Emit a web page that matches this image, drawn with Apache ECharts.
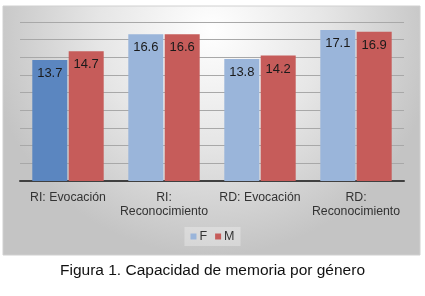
<!DOCTYPE html>
<html><head><meta charset="utf-8">
<script src="https://cdn.jsdelivr.net/npm/echarts@6/dist/echarts.min.js"></script>
<style>html,body{margin:0;padding:0;background:#fff}#c{width:425px;height:296px}</style>
</head><body><div id="c"></div>
<script>
const categories = ['RI: Evocación', 'RI:\nReconocimiento', 'RD: Evocación', 'RD:\nReconocimiento'];
const seriesF = [13.7, 16.6, 13.8, 17.1];
const seriesM = [14.7, 16.6, 14.2, 16.9];
const seriesNames = ['F', 'M'];
const caption = 'Figura 1. Capacidad de memoria por género';

const chart = echarts.init(document.getElementById('c'), null, {renderer: 'canvas'});
const font = '"Liberation Sans", Arial, sans-serif';
const fColors = ['#5B86C0', '#9AB5DA', '#9AB5DA', '#9AB5DA'];
const lbl = {show: true, position: 'insideTop', distance: 7, fontSize: 13, color: '#1a1a1a', fontFamily: font, formatter: p => p.value.toFixed(1)};
chart.setOption({
  animation: false,
  graphic: [
    {type: 'rect', z: -10, shape: {x: 3, y: 6, width: 417, height: 249},
     style: {fill: new echarts.graphic.RadialGradient(0.5, 0.1, 0.9, [
       {offset: 0, color: '#ffffff'}, {offset: 0.5, color: '#e6e6e6'}, {offset: 1, color: '#c4c4c4'}]),
       stroke: '#d0d0d0', lineWidth: 1}},
    {type: 'text', left: 'center', top: 263, style: {text: caption, fontSize: 15.5, fontFamily: font, fill: '#111'}}
  ],
  grid: {left: 20, right: 21, top: 22, bottom: 115},
  legend: {bottom: 50, left: 'center', itemWidth: 6, itemHeight: 6, itemGap: 8, icon: 'rect',
    backgroundColor: 'rgba(245,245,245,0.35)', padding: [3, 6],
    textStyle: {fontSize: 12.5, fontFamily: font, color: '#333', padding: [0, 0, 0, -2]}, data: seriesNames},
  xAxis: {type: 'category', data: categories,
    axisLine: {lineStyle: {color: '#404040', width: 2}}, axisTick: {show: false},
    axisLabel: {fontSize: 12.3, fontFamily: font, color: '#333', lineHeight: 14, margin: 10, interval: 0}},
  yAxis: {type: 'value', min: 0, max: 18, interval: 2, axisLabel: {show: false},
    axisLine: {show: false}, axisTick: {show: false},
    splitLine: {lineStyle: {color: '#a8a8a8', width: 1}}},
  series: [
    {name: 'F', type: 'bar', barWidth: 35, barGap: '4%',
     itemStyle: {color: '#9AB5DA'},
     data: seriesF.map((v, i) => ({value: v, itemStyle: {color: fColors[i]}})), label: lbl},
    {name: 'M', type: 'bar', barWidth: 35, barGap: '4%',
     itemStyle: {color: '#C65C5A'}, data: seriesM, label: lbl}
  ]
});
</script></body></html>
